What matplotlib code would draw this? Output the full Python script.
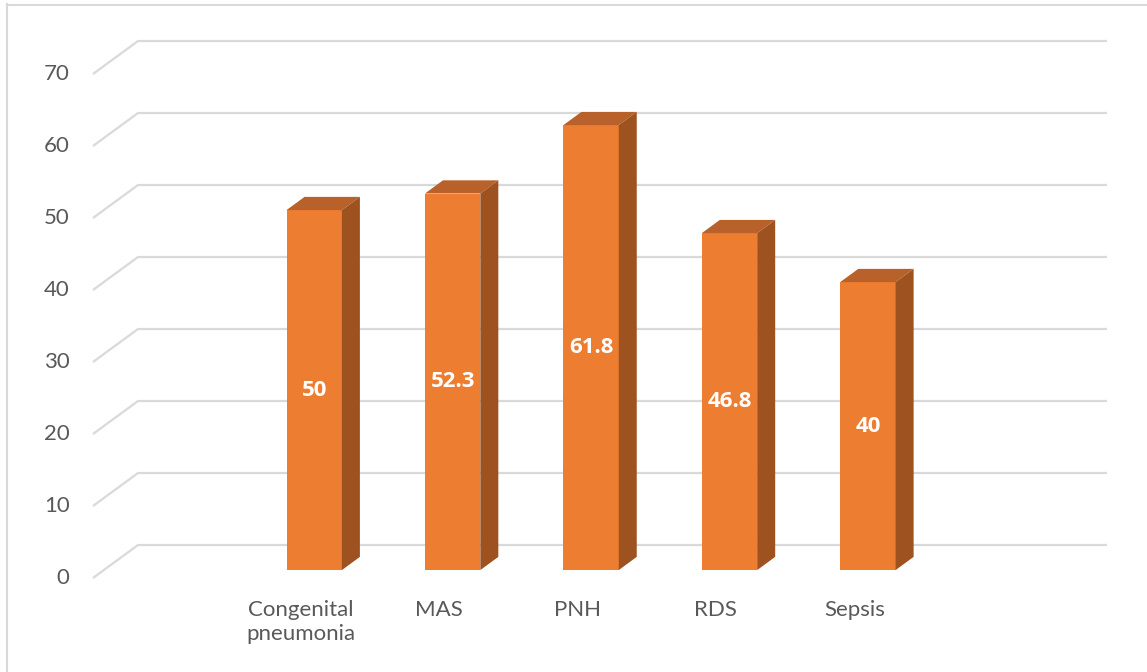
import matplotlib
matplotlib.use("Agg")
import matplotlib.pyplot as plt
from matplotlib.patches import Polygon
from matplotlib.lines import Line2D

# Data
categories = ["Congenital\npneumonia", "MAS", "PNH", "RDS", "Sepsis"]
values = [50, 52.3, 61.8, 46.8, 40]
tick_values = [0, 10, 20, 30, 40, 50, 60, 70]
n_slots = 7          # category slots on the floor (first and last left empty)
first_slot = 1

# Style
FRONT = "#ED7D31"
TOP = "#B9612A"
SIDE = "#9D5220"
GRID = "#D9D9D9"
TEXT = "#595959"
FONT = "Lato"
BOLD_FONT = "Open Sans"

W, H = 1147, 672
fig = plt.figure(figsize=(W / 100, H / 100), dpi=100)
fig.patch.set_facecolor("white")

# outer chart frame
fig.add_artist(Line2D([7.5 / W, 7.5 / W], [0, 1 - 4 / H], color=GRID, lw=1.5))
fig.add_artist(Line2D([7 / W, 1], [1 - 4.5 / H, 1 - 4.5 / H], color=GRID, lw=1.5))

# axes: x in category slots, y in value units (front plane)
ax = fig.add_axes([93 / W, (H - 578) / H, 969 / W, 504 / H])
ax.set_xlim(0, n_slots)
ax.set_ylim(0, 70)
ax.axis("off")

slot_px = 969 / n_slots
unit_px = 504 / 70
DX = 45 / slot_px      # full floor depth, in slot units
DY = 33 / unit_px      # full floor depth, in value units

# back-wall gridlines with their floor diagonals
for v in tick_values:
    ax.plot([0, DX, n_slots + DX], [v, v + DY, v + DY], color=GRID, lw=1.6,
            solid_capstyle="butt", clip_on=False, zorder=1)
    ax.text(-0.17, v, str(v), ha="right", va="center", fontsize=16,
            color=TEXT, family=FONT, clip_on=False)

# 3D columns
d0, d1 = 0.24, 0.64          # depth range occupied by the columns
bw = 0.4
for i, (cat, v) in enumerate(zip(categories, values)):
    c = first_slot + i + 0.5 + 0.02
    x0 = c - bw / 2 + d0 * DX
    x1 = c + bw / 2 + d0 * DX
    y0 = d0 * DY
    y1 = v + d0 * DY
    ddx = (d1 - d0) * DX
    ddy = (d1 - d0) * DY
    front = Polygon([(x0, y0), (x1, y0), (x1, y1), (x0, y1)], closed=True,
                    facecolor=FRONT, edgecolor="none", zorder=3, clip_on=False)
    top = Polygon([(x0, y1), (x1, y1), (x1 + ddx, y1 + ddy), (x0 + ddx, y1 + ddy)],
                  closed=True, facecolor=TOP, edgecolor="none", zorder=3, clip_on=False)
    side = Polygon([(x1, y0), (x1 + ddx, y0 + ddy), (x1 + ddx, y1 + ddy), (x1, y1)],
                   closed=True, facecolor=SIDE, edgecolor="none", zorder=3, clip_on=False)
    for p in (front, top, side):
        ax.add_patch(p)
    ax.text((x0 + x1) / 2, (y0 + y1) / 2, f"{v:g}", ha="center", va="center",
            fontsize=16, fontweight="bold", color="white", family=BOLD_FONT, zorder=4)
    # category label under the floor
    ax.text(first_slot + i + 0.5, -3.0, cat, ha="center", va="top", fontsize=16,
            color=TEXT, family=FONT, linespacing=1.3, clip_on=False)

fig.savefig("out.png", dpi=100, facecolor="white")
